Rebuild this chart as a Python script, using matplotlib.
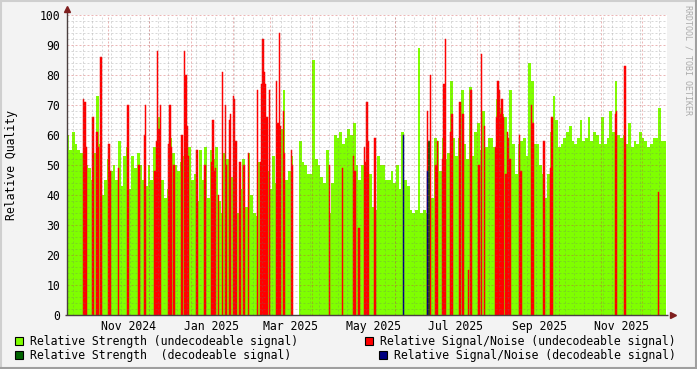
"""
RRD style daily signal quality chart
"""

import datetime as dt
import numpy as np
import matplotlib
matplotlib.use("Agg")
import matplotlib.pyplot as plt
import matplotlib.dates as mdates
from matplotlib.patches import Rectangle

start = dt.datetime(2024, 10, 1)
span_days = 444.4

# Relative Strength (undecodeable signal), one value per 2 days from start, nan = no data
strength_2day = [
    60, 55, 61, 57, 55, 54, 47, 50, 49, 45,
    54, 73, 57, 40, 45, 52, 48, 50, 45, 58,
    43, 53, 56, 42, 53, 49, 54, 50, 45, 43,
    50, 45, 56, 51, 66, 45, 39, 42, 59, 54,
    50, 48, 51, 53, 53, 56, 45, 47, 38, 55,
    45, 56, 39, 55,
    52, 56, 38, 34, 54, 52, 47, 46, 33, 34,
    42, 52, 36, 54, 40, 34, 33, 51, 51, 47,
    48, 42, 53, 44, 48, 62, 75, 45, 48, 53,
    np.nan, np.nan, 58, 51, 50, 47, 47, 85, 52, 50,
    46, 44, 55, 34, 44, 60, 59, 61, 57, 59,
    62, 60, 64, 50, 45, 50,
    47, 54, 47, 36, 35, 53, 50, 50, 45, 45,
    48, 44, 50, 42, 61, 45, 43, 35, 34, 35,
    89, 34, 35, 34, 39, 39, 59, 58, 48, 59,
    52, 54, 78, 59, 53, 59, 75, 57, 52, 76,
    53, 61, 64, 55, 68, 56, 59, 59, 56, 72,
    69, 67, 66, 59, 75, 57,
    47, 57, 58, 59, 53, 84, 78, 57, 57, 50,
    47, 39, 47, 61, 73, 65, 56, 57, 59, 61,
    63, 58, 57, 59, 65, 58, 59, 66,
    58, 61, 60, 57, 66, 57, 59, 68, 61, 78,
    60, 59, 60, 57, 64, 56, 58, 57, 61, 59,
    58, 56, 57, 59, 59, 69, 58, 58,
]

# Relative Signal/Noise (undecodeable signal): day offset from start, value
sn_days = [12, 13, 14, 19, 22, 23, 25, 31, 32, 38, 45, 53, 57, 58, 65, 66, 67, 68, 69,
           75, 76, 77, 79, 85, 87, 88, 89, 90, 96, 102, 107, 108, 109, 110, 112, 115,
           117, 118, 120, 121, 123, 124, 125, 128, 131, 134, 141, 143, 144, 145, 146,
           147, 148, 150, 155, 156, 157, 158, 160, 161, 166, 167, 194, 204, 212, 213,
           216, 220, 221, 222, 223, 228, 267, 269, 273, 274, 278, 279, 280, 284, 285,
           291, 293, 297, 299, 305, 307, 309, 317, 318, 319, 320, 321, 322, 323, 325,
           326, 327, 328, 335, 336, 344, 345, 353, 358, 359, 406, 407, 413, 438]
sn_vals = [72, 71, 56, 66, 61, 56, 86, 57, 48, 49, 70, 50, 60, 70, 48, 58, 88, 62, 70,
           57, 70, 56, 50, 60, 88, 80, 63, 53, 55, 50, 51, 65, 48, 49, 40, 81,
           70, 50, 65, 67, 73, 72, 58, 51, 50, 54, 75, 51, 77, 92, 81,
           77, 66, 75, 78, 64, 94, 63, 68, 54, 55, 50, 50, 49, 53, 48,
           29, 56, 51, 71, 58, 59, 68, 80, 50, 58, 52, 77, 92, 61, 67,
           71, 67, 15, 75, 50, 87, 63, 56, 66, 78, 75, 67, 72, 66, 47,
           61, 59, 52, 60, 48, 70, 64, 58, 49, 66, 67, 68, 83, 41]

# decodeable signal
dec_strength_days = [268]
dec_strength_vals = [58]
dec_sn_days = [249, 267]
dec_sn_vals = [60, 48]

y_ticks = list(range(0, 101, 10))
label_months = [(2024, 11), (2025, 1), (2025, 3), (2025, 5), (2025, 7), (2025, 9), (2025, 11)]

W, H = 697, 369
plt.rcParams['font.family'] = ['DejaVu Sans Mono']
fig = plt.figure(figsize=(W / 100, H / 100), dpi=100)
fig.patch.set_facecolor('#F3F3F3')

px0, py0 = 66.6, 315
ax = fig.add_axes([px0 / W, (H - py0) / H, 600 / W, 300 / H])
ax.set_facecolor('white')


def day_bars(days, vals, color, z):
    xs = [start + dt.timedelta(days=d) for d in days]
    ax.bar(xs, vals, width=1, align='edge', color=color, edgecolor=color,
           linewidth=0.35, zorder=z)


x_strength = [start + dt.timedelta(days=2 * i) for i in range(len(strength_2day))]
ax.bar(x_strength, strength_2day, width=2, align='edge', color='#7FFF00',
       linewidth=0, antialiased=False, zorder=2)
day_bars(dec_strength_days, dec_strength_vals, '#006400', 3)
day_bars(sn_days, sn_vals, '#FF0000', 4)
day_bars(dec_sn_days, dec_sn_vals, '#000080', 5)

end = start + dt.timedelta(days=span_days)
ax.set_xlim(start, end)
ax.set_ylim(0, 100)

# grid: minor every 2 units / every week (Sunday), major every 10 units / month start
minor_c = (0.45, 0.45, 0.45, 0.28)
major_c = (0.8, 0.25, 0.25, 0.38)
dash = (0, (2, 2))
for v in range(0, 101, 2):
    if v % 10:
        ax.axhline(v, color=minor_c, lw=0.72, ls=dash, zorder=6)
d = start
while d < end:
    if d.weekday() == 6:
        ax.axvline(d, color=minor_c, lw=0.72, ls=dash, zorder=6)
    d += dt.timedelta(days=1)
for v in y_ticks:
    ax.axhline(v, color=major_c, lw=0.72, ls=dash, zorder=7)
y, m = 2024, 11
while dt.datetime(y, m, 1) < end:
    ax.axvline(dt.datetime(y, m, 1), color=major_c, lw=0.72, ls=dash, zorder=7)
    m += 1
    if m > 12:
        y, m = y + 1, 1

for s in ax.spines.values():
    s.set_visible(False)

ax.set_yticks(y_ticks)
ax.tick_params(axis='y', length=0, pad=4.5, labelsize=8.3, colors='#000000')
ax.set_xticks([dt.datetime(yy, mm, 16) for yy, mm in label_months])
ax.xaxis.set_major_formatter(mdates.DateFormatter('%b %Y'))
ax.tick_params(axis='x', length=0, pad=3.5, labelsize=8.3)

# axes with arrows
axis_c = '#4A3F3F'
arrow_c = '#7F1F1F'
ax.plot([-0.003, 1.003], [0, 0], transform=ax.transAxes, color=axis_c, lw=1,
        clip_on=False, zorder=8, solid_capstyle='butt')
ax.plot([0, 0], [0, 1.02], transform=ax.transAxes, color=axis_c, lw=1,
        clip_on=False, zorder=8, solid_capstyle='butt')
ax.plot([1.01], [0], marker='>', ms=4, color=arrow_c, transform=ax.transAxes,
        clip_on=False, zorder=9)
ax.plot([0], [1.02], marker='^', ms=4, color=arrow_c, transform=ax.transAxes,
        clip_on=False, zorder=9)

fig.text(12 / W, 1 - 165 / H, 'Relative Quality', rotation=90, ha='center',
         va='center', fontsize=8.3)
fig.text(688 / W, 1 - 5 / H, 'RRDTOOL / TOBI OETIKER', rotation=270, ha='center',
         va='top', fontsize=6, color='#ABABAB')

# legend
legend = [
    (15, 337, '#7FFF00', 'Relative Strength (undecodeable signal)'),
    (15, 351, '#006400', 'Relative Strength  (decodeable signal)'),
    (365, 337, '#FF0000', 'Relative Signal/Noise (undecodeable signal)'),
    (379, 351, '#000080', 'Relative Signal/Noise (decodeable signal)'),
]
for lx, ly, c, t in legend:
    fig.patches.append(Rectangle((lx / W, 1 - (ly + 8) / H), 8 / W, 8 / H,
                                 transform=fig.transFigure, facecolor=c,
                                 edgecolor='black', lw=0.8))
    fig.text((lx + 15) / W, 1 - (ly + 4.5) / H, t, ha='left', va='center', fontsize=8.3)

# frame
fig.add_artist(plt.Line2D([0, 1], [1 - 1 / H, 1 - 1 / H], transform=fig.transFigure,
                          color='#CFCFCF', lw=1.5))
fig.add_artist(plt.Line2D([1 / W, 1 / W], [0, 1], transform=fig.transFigure,
                          color='#CFCFCF', lw=1.5))
fig.add_artist(plt.Line2D([0, 1], [1 / H, 1 / H], transform=fig.transFigure,
                          color='#9F9F9F', lw=1.5))
fig.add_artist(plt.Line2D([1 - 1 / W, 1 - 1 / W], [0, 1], transform=fig.transFigure,
                          color='#9F9F9F', lw=1.5))

fig.savefig('out.png', dpi=100, facecolor=fig.get_facecolor())
